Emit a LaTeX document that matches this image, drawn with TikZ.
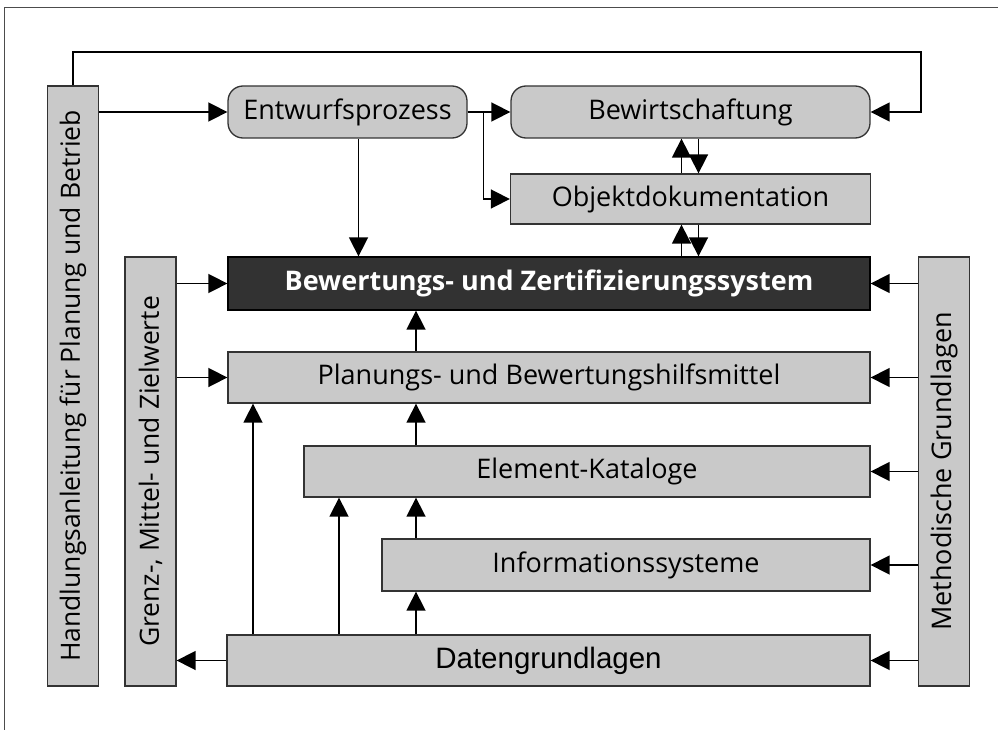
\documentclass[tikz,border=0pt]{standalone}
\usepackage{fontspec}
\setmainfont{Open Sans}
\newfontfamily\arialfont{Liberation Sans}
\usetikzlibrary{arrows.meta}
\definecolor{boxgray}{RGB}{201,201,201}
\definecolor{boxdark}{RGB}{50,50,50}

\begin{document}
\begin{tikzpicture}[x=1pt, y=-1pt,
    box/.style={draw=black!80, line width=1.3pt, fill=boxgray, inner sep=0pt,
      font=\fontsize{27}{31}\selectfont},
    side/.style={box, rotate=90, minimum height=51pt},
    arr/.style={line width=1.6pt, -{Triangle[length=19pt, width=19pt]}}]
    \useasboundingbox (0,0) rectangle (998,730);
    % frame
    \draw[black!70, line width=1pt] (4,730) -- (4,8) -- (998,8);

    % Side bars
    \node[side, minimum width=600pt, font=\fontsize{26.5}{31}\selectfont] (hand) at (73,386) {Handlungsanleitung für Planung und Betrieb};
    \node[side, minimum width=429pt, font=\fontsize{26.5}{31}\selectfont] (grenz) at (150.5,471.5) {Grenz-, Mittel- und Zielwerte};
    \node[side, minimum width=429pt] (meth) at (944,471.5) {Methodische Grundlagen};

    % Top row
    \node[box, rounded corners=15pt, minimum width=239pt, minimum height=52pt] (entw) at (347.5,112) {Entwurfsprozess};
    \node[box, rounded corners=15pt, minimum width=359pt, minimum height=52pt] (bewi) at (690.5,112) {Bewirtschaftung};
    \node[box, minimum width=360pt, minimum height=50pt] (objd) at (690.5,199) {Objektdokumentation};

    % Main stack
    \node[box, fill=boxdark, draw=black, text=white, minimum width=642pt, minimum height=53pt,
      font=\fontsize{27}{31}\selectfont\bfseries] (bew) at (549,283.5) {Bewertungs- und Zertifizierungssystem};
    \node[box, minimum width=642pt, minimum height=51pt] (plan) at (549,377.5) {Planungs- und Bewertungshilfsmittel};
    \node[box, minimum width=566pt, minimum height=51pt] (elem) at (587,471.5) {Element-Kataloge};
    \node[box, minimum width=488pt, minimum height=52pt] (info) at (626,565) {Informationssysteme};
    \node[box, minimum width=643pt, minimum height=51pt,
      font=\fontsize{29.5}{33}\arialfont] (daten) at (548.5,660.5) {Datengrundlagen};

    % Helper columns
    \coordinate (loop) at (921,52);
    \coordinate (lft) at (253,0);
    \coordinate (ctr) at (339,0);
    \coordinate (mid) at (416,0);

    % Arrows
    \draw[arr] (hand.south |- entw.west) -- (entw.west);
    \draw[arr] (hand.east) |- (loop) |- (bewi.east);
    \draw[arr] (entw.east) -- (bewi.west);
    \draw[arr] (entw.east) -- ++(16,0) |- (objd.west);
    \draw[arr] ([xshift=11pt]entw.south) -- ([xshift=11pt]entw.south |- bew.north);
    \draw[arr] ([xshift=-9pt]objd.north) -- ([xshift=-9pt]bewi.south);
    \draw[arr] ([xshift=8pt]bewi.south) -- ([xshift=8pt]objd.north);
    \draw[arr] ([xshift=-9pt]objd.south |- bew.north) -- ([xshift=-9pt]objd.south);
    \draw[arr] ([xshift=8pt]objd.south) -- ([xshift=8pt]objd.south |- bew.north);

    \draw[arr] (grenz.south |- bew.west) -- (bew.west);
    \draw[arr] (grenz.south |- plan.west) -- (plan.west);
    \draw[arr] (daten.west) -- (grenz.south |- daten.west);
    \foreach \n in {bew,plan,elem,info,daten}
      \draw[arr] (meth.north |- \n.east) -- (\n.east);

    \foreach \a/\b in {plan/bew, elem/plan, info/elem, daten/info}
      \draw[arr] (mid |- \a.north) -- (mid |- \b.south);
    \draw[arr] (lft |- daten.north) -- (lft |- plan.south);
    \draw[arr] (ctr |- daten.north) -- (ctr |- elem.south);
\end{tikzpicture}
\end{document}
